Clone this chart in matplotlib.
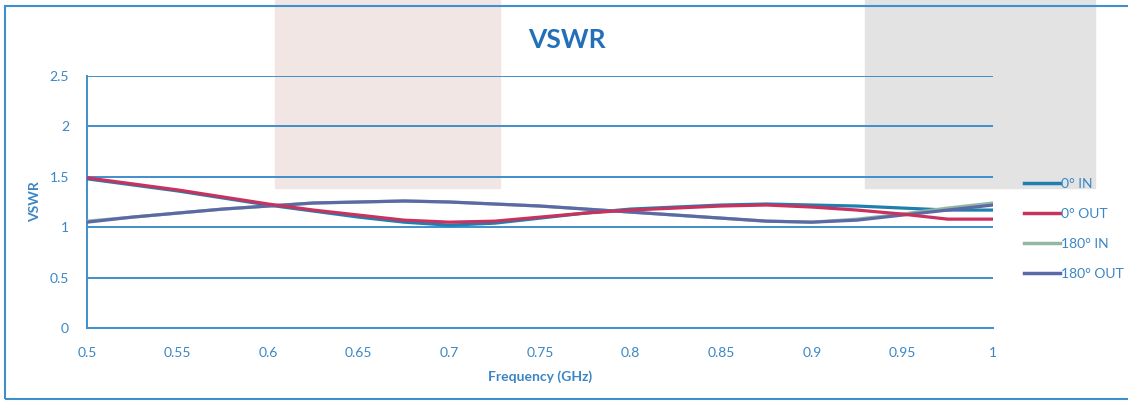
import matplotlib.pyplot as plt
from matplotlib.patches import Rectangle
from matplotlib.lines import Line2D

plt.rcParams['font.family'] = ['Lato', 'DejaVu Sans']

freq = [0.5, 0.525, 0.55, 0.575, 0.6, 0.625, 0.65, 0.675, 0.7, 0.725, 0.75,
        0.775, 0.8, 0.825, 0.85, 0.875, 0.9, 0.925, 0.95, 0.975, 1.0]

in_0 = [1.48, 1.42, 1.36, 1.29, 1.22, 1.16, 1.10, 1.05, 1.02, 1.04, 1.09,
        1.14, 1.18, 1.20, 1.22, 1.23, 1.22, 1.21, 1.19, 1.17, 1.17]
out_0 = [1.49, 1.43, 1.37, 1.30, 1.23, 1.17, 1.12, 1.07, 1.05, 1.06, 1.10,
         1.14, 1.17, 1.19, 1.21, 1.22, 1.20, 1.17, 1.13, 1.08, 1.08]
in_180 = [1.06, 1.10, 1.14, 1.18, 1.21, 1.24, 1.25, 1.26, 1.25, 1.23, 1.21,
          1.18, 1.15, 1.12, 1.09, 1.06, 1.05, 1.08, 1.13, 1.19, 1.24]
out_180 = [1.05, 1.10, 1.14, 1.18, 1.21, 1.24, 1.25, 1.26, 1.25, 1.23, 1.21,
           1.18, 1.15, 1.12, 1.09, 1.06, 1.05, 1.07, 1.12, 1.17, 1.22]

labels = ['0° IN', '0° OUT', '180° IN', '180° OUT']
colors = ['#1f7fae', '#c9315e', '#93b8a2', '#5b6aa6']
xticks = [0.5, 0.55, 0.6, 0.65, 0.7, 0.75, 0.8, 0.85, 0.9, 0.95, 1]
yticks = [0, 0.5, 1, 1.5, 2, 2.5]

blue = '#3f8fcc'
txt = '#3a86c4'

fig = plt.figure(figsize=(11.28, 4.04), dpi=100)

# scan shading + outer frame
fig.patches.append(Rectangle((275/1128, 1-188/404), 225/1128, 188/404,
                             transform=fig.transFigure, color='#f2e6e5', zorder=-5))
fig.patches.append(Rectangle((865/1128, 1-188/404), 230/1128, 188/404,
                             transform=fig.transFigure, color='#e3e3e3', zorder=-5))
fig.patches.append(Rectangle((5/1128, 5/404), 1.2, 1-11/404, transform=fig.transFigure,
                             fill=False, edgecolor=blue, lw=1.5, zorder=-4))

ax = fig.add_axes([87/1128, 1-328/404, 906/1128, 252/404])
ax.patch.set_alpha(0)

series = [in_0, in_180, out_180, out_0]
order = [0, 2, 3, 1]
for s, i in zip(series, order):
    ax.plot(freq, s, color=colors[i], lw=2.3, zorder=3)

ax.set_xlim(0.5, 1.0)
ax.set_ylim(0, 2.5)
ax.set_xticks(xticks)
ax.set_xticklabels([f'{t:g}' for t in xticks])
ax.set_yticks(yticks)
ax.set_yticklabels([f'{t:g}' for t in yticks])
ax.grid(axis='y', color=blue, lw=1.4)
ax.tick_params(length=0, colors=txt, labelsize=10)
ax.tick_params(axis='x', pad=14)
ax.tick_params(axis='y', pad=13)
for sp in ['top', 'right']:
    ax.spines[sp].set_visible(False)
for sp in ['left', 'bottom']:
    ax.spines[sp].set_color(blue)
    ax.spines[sp].set_linewidth(1.4)

ax.set_xlabel('Frequency (GHz)', color=txt, fontweight='bold', fontsize=10, labelpad=8)
ax.set_ylabel('VSWR', color=txt, fontweight='bold', fontsize=10, labelpad=6)
fig.text(567/1128, 1-40/404, 'VSWR', ha='center', va='center', color='#2270b8',
         fontweight='bold', fontsize=19)

handles = [Line2D([], [], color=c, lw=2.5) for c in colors]
leg = fig.legend(handles, labels, loc='upper left', bbox_to_anchor=(1018/1128, 1-172/404),
                 frameon=False, fontsize=10, handlelength=2.6, handletextpad=0.1,
                 labelspacing=1.3, borderaxespad=0)
for t in leg.get_texts():
    t.set_color(txt)

fig.savefig('out.png', dpi=100)
